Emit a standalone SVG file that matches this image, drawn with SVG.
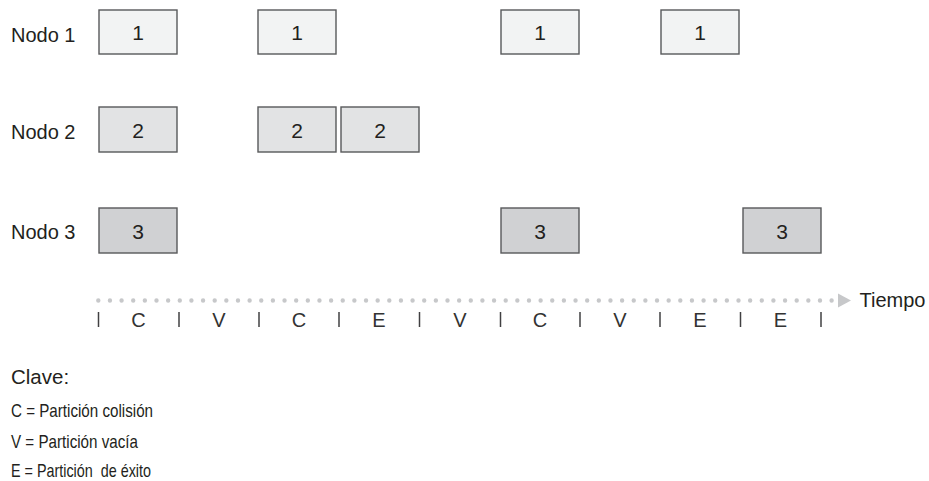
<svg xmlns="http://www.w3.org/2000/svg" width="929" height="481" viewBox="0 0 929 481">
<style>
text{font-family:"Liberation Sans",Arial,sans-serif;fill:#231f20}
.lbl{font-size:20px}
.num{font-size:21px;text-anchor:middle}
.box{stroke:#58595b;stroke-width:1.4}
.n1 .box{fill:#f2f3f3}
.n2 .box{fill:#e2e3e4}
.n3 .box{fill:#d0d1d3}
.tick{stroke:#414042;stroke-width:1.5}
.slot{font-size:20px;text-anchor:middle;fill:#333}
.key{font-size:18.5px}
</style>
<rect width="929" height="481" fill="#fff"/>
<g id="nodo1" class="n1">
<text class="lbl" x="11" y="42">Nodo 1</text>
<rect class="box" x="99" y="10" width="78" height="44"/><text class="num" x="138" y="40">1</text>
<rect class="box" x="258" y="10" width="78" height="44"/><text class="num" x="297" y="40">1</text>
<rect class="box" x="501" y="10" width="78" height="44"/><text class="num" x="540" y="40">1</text>
<rect class="box" x="661" y="10" width="78" height="44"/><text class="num" x="700" y="40">1</text>
</g>
<g id="nodo2" class="n2">
<text class="lbl" x="11" y="138.5">Nodo 2</text>
<rect class="box" x="99" y="107" width="78" height="45"/><text class="num" x="138" y="137.5">2</text>
<rect class="box" x="258" y="107" width="78" height="45"/><text class="num" x="297" y="137.5">2</text>
<rect class="box" x="341" y="107" width="78" height="45"/><text class="num" x="380" y="137.5">2</text>
</g>
<g id="nodo3" class="n3">
<text class="lbl" x="11" y="238.5">Nodo 3</text>
<rect class="box" x="99" y="208" width="78" height="45"/><text class="num" x="138" y="238.5">3</text>
<rect class="box" x="501" y="208" width="78" height="45"/><text class="num" x="540" y="238.5">3</text>
<rect class="box" x="743" y="208" width="78" height="45"/><text class="num" x="782" y="238.5">3</text>
</g>
<g id="connectors">
<line x1="98.3" y1="300.5" x2="832" y2="300.5" stroke="#c7c8ca" stroke-width="4.4" stroke-linecap="round" stroke-dasharray="0 11.64"/>
<polygon points="838,293.5 851,300.5 838,307.5" fill="#c7c8ca"/>
</g>
<g id="timeline">
<text class="lbl" x="859.5" y="307">Tiempo</text>
<g class="tick">
<line x1="98.5" y1="312" x2="98.5" y2="327"/>
<line x1="179" y1="312" x2="179" y2="327"/>
<line x1="259" y1="312" x2="259" y2="327"/>
<line x1="339" y1="312" x2="339" y2="327"/>
<line x1="419.5" y1="312" x2="419.5" y2="327"/>
<line x1="500.5" y1="312" x2="500.5" y2="327"/>
<line x1="580" y1="312" x2="580" y2="327"/>
<line x1="660" y1="312" x2="660" y2="327"/>
<line x1="740.5" y1="312" x2="740.5" y2="327"/>
<line x1="821" y1="312" x2="821" y2="327"/>
</g>
<text class="slot" x="138.5" y="327">C</text>
<text class="slot" x="219" y="327">V</text>
<text class="slot" x="299" y="327">C</text>
<text class="slot" x="379" y="327">E</text>
<text class="slot" x="460" y="327">V</text>
<text class="slot" x="540" y="327">C</text>
<text class="slot" x="620" y="327">V</text>
<text class="slot" x="700" y="327">E</text>
<text class="slot" x="780.5" y="327">E</text>
</g>
<g id="legend">
<text class="lbl" x="11" y="384" style="font-size:20.5px">Clave:</text>
<text class="key" x="11" y="416.5" textLength="142" lengthAdjust="spacingAndGlyphs">C = Partición colisión</text>
<text class="key" x="11" y="447.5" textLength="127" lengthAdjust="spacingAndGlyphs">V = Partición vacía</text>
<text class="key" x="11" y="477" textLength="140" lengthAdjust="spacingAndGlyphs" xml:space="preserve">E = Partición  de éxito</text>
</g>
</svg>
